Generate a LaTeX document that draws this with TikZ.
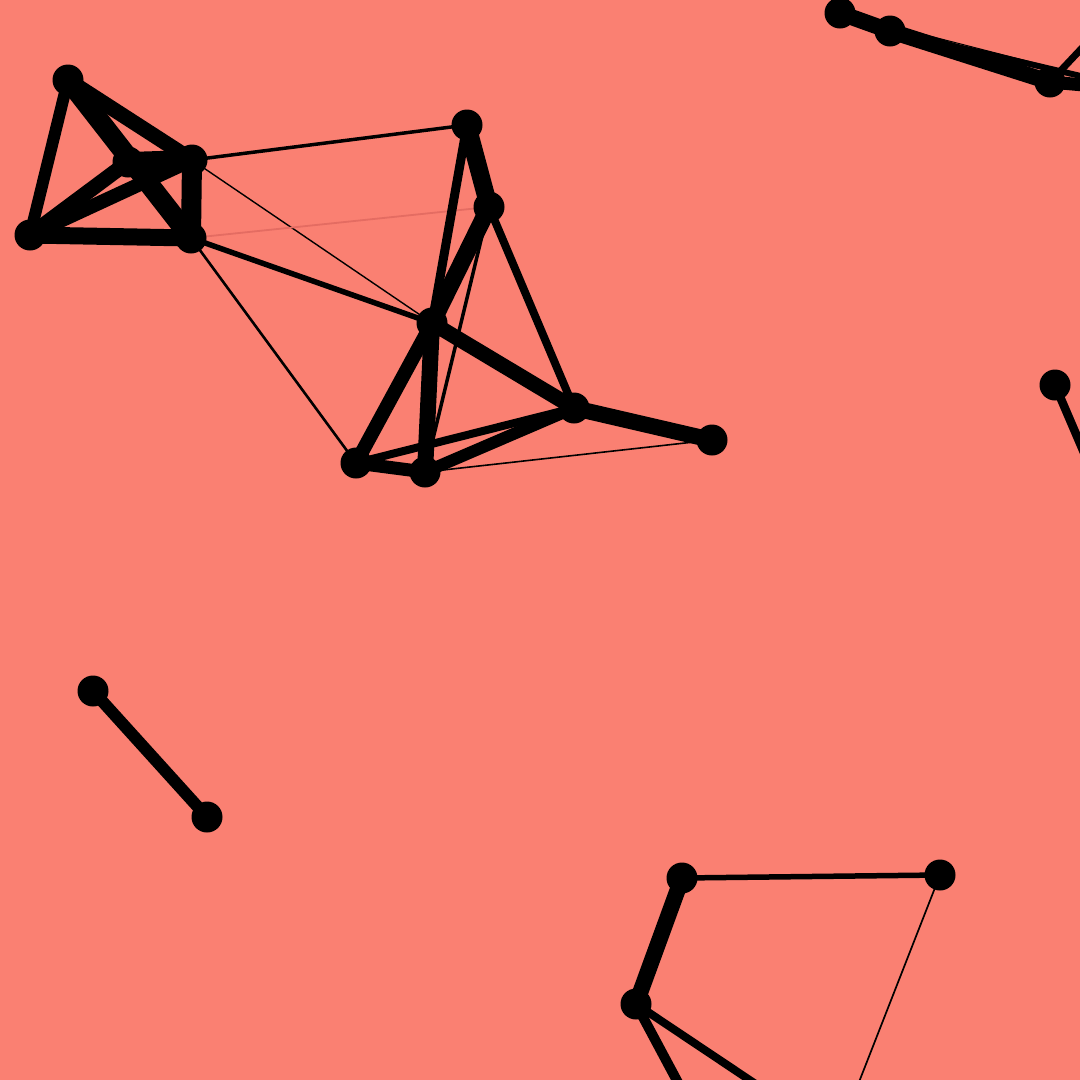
\documentclass[tikz,border=0pt]{standalone}
\definecolor{bg}{RGB}{250,128,114}
\definecolor{faint}{RGB}{228,108,98}
\begin{document}
\begin{tikzpicture}[x=1pt,y=-1pt,
  nd/.style={circle,fill=black,inner sep=0pt,minimum size=31pt},
  ed/.style={draw=black,line width=#1},
]
\fill[bg] (0,0) rectangle (1080,1080);
\useasboundingbox (0,0) rectangle (1080,1080);
\begin{scope}
\clip (0,0) rectangle (1080,1080);
\coordinate (A) at (68,80);
\coordinate (B) at (128,162);
\coordinate (C) at (192,160);
\coordinate (D) at (30,235);
\coordinate (E) at (191,238);
\coordinate (F) at (467,125);
\coordinate (G) at (489,207);
\coordinate (H) at (432,323);
\coordinate (I) at (574,408);
\coordinate (J) at (712,440);
\coordinate (K) at (356,463);
\coordinate (L) at (425,472);
\coordinate (M) at (840,13);
\coordinate (N) at (890,31);
\coordinate (O) at (1050,82);
\coordinate (X) at (1140,90);
\coordinate (Y) at (1130,-3);
\coordinate (P) at (1055,385);
\coordinate (Z) at (1100,490);
\coordinate (Q) at (93,691);
\coordinate (R) at (207,817);
\coordinate (S) at (682,878);
\coordinate (T) at (940,875);
\coordinate (U) at (636,1004);
\coordinate (V1) at (690,1105);
\coordinate (V2) at (790,1107);
\coordinate (V3) at (850,1105);
% cluster 1
\draw[ed=12pt] (A) -- (D);
\draw[ed=20pt] (A) -- (E);
\draw[ed=15pt] (A) -- (C);
\draw[ed=20pt] (B) -- (C);
\draw[ed=14pt] (D) -- (C);
\draw[ed=15pt] (D) -- (B);
\draw[ed=17pt] (D) -- (E);
\draw[ed=20pt] (C) -- (E);
\draw[ed=3.5pt] (C) -- (F);
\draw[ed=1.4pt] (C) -- (H);
\draw[draw=faint,line width=1.8pt] (E) -- (G);
\draw[ed=5.5pt] (E) -- (H);
\draw[ed=2.6pt] (E) -- (K);
% cluster 2
\draw[ed=18pt] (F) -- (G);
\draw[ed=9pt] (F) -- (H);
\draw[ed=17pt] (H) -- (G);
\draw[ed=3.5pt] (G) -- (L);
\draw[ed=8pt] (G) -- (I);
\draw[ed=15pt] (H) -- (I);
\draw[ed=14pt] (H) -- (K);
\draw[ed=16pt] (H) -- (L);
\draw[ed=13pt] (K) -- (L);
\draw[ed=8pt] (K) -- (I);
\draw[ed=12pt] (L) -- (I);
\draw[ed=16pt] (I) -- (J);
\draw[ed=1.6pt] (L) -- (J);
% top right
\draw[ed=16pt] (M) -- (N);
\draw[ed=16pt] (N) -- (O);
\draw[ed=6pt] (N) -- (X);
\draw[ed=1pt] (M) -- (X);
\draw[ed=13pt] (O) -- (X);
\draw[ed=7pt] (O) -- (Y);
% right
\draw[ed=8.5pt] (P) -- (Z);
% bottom left
\draw[ed=12pt] (Q) -- (R);
% bottom right
\draw[ed=16pt] (S) -- (U);
\draw[ed=5.5pt] (S) -- (T);
\draw[ed=10pt] (U) -- (V1);
\draw[ed=8pt] (U) -- (V2);
\draw[ed=1.7pt] (T) -- (V3);
% node discs
\foreach \n in {A,B,C,D,E,F,G,H,I,J,K,L,M,N,O,P,Q,R,S,T,U}
  \node[nd] (n\n) at (\n) {};
\end{scope}
\end{tikzpicture}
\end{document}
